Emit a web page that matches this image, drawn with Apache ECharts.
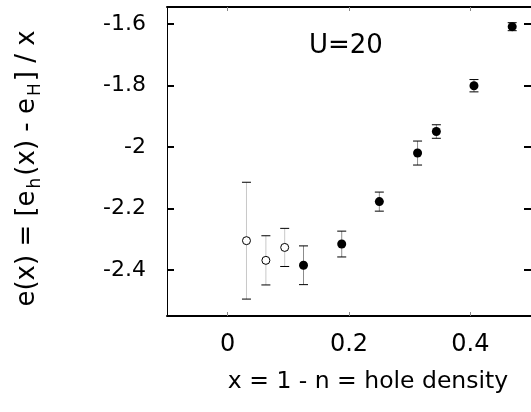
<!DOCTYPE html>
<html>
<head>
<meta charset="utf-8">
<script src="https://cdn.jsdelivr.net/npm/echarts@6/dist/echarts.min.js"></script>
<style>
  html, body { margin: 0; padding: 0; background: #fff; }
  #chart { width: 531px; height: 412px; }
</style>
</head>
<body>
<div id="chart"></div>
<script>
// Hole density x = 1 - n and energy per hole e(x), U = 20
// Open circles: small-x points; filled circles: the rest
const openX = [0.031, 0.063, 0.094];
const openY = [-2.305, -2.369, -2.327];
const openErr = [0.19, 0.08, 0.062];

const fullX = [0.125, 0.188, 0.25, 0.313, 0.344, 0.406, 0.469];
const fullY = [-2.385, -2.316, -2.178, -2.020, -1.950, -1.801, -1.609];
const fullErr = [0.063, 0.042, 0.031, 0.039, 0.022, 0.02, 0.013];

const xTicks = [0, 0.2, 0.4];
const xTickLabels = ['0', '0.2', '0.4'];
const yTicks = [-2.4, -2.2, -2, -1.8, -1.6];
const yTickLabels = ['-2.4', '-2.2', '-2', '-1.8', '-1.6'];

const FONT = 'DejaVu Sans';

function pick(ticks, labels) {
  return function (v) {
    for (let i = 0; i < ticks.length; i++) {
      if (Math.abs(ticks[i] - v) < 1e-6) return labels[i];
    }
    return '';
  };
}

function errorBars(xs, ys, errs, barColor) {
  return {
    type: 'custom',
    z: 1,
    silent: true,
    data: xs.map((x, i) => [x, ys[i] - errs[i], ys[i] + errs[i]]),
    renderItem: function (params, api) {
      const lo = api.coord([api.value(0), api.value(1)]);
      const hi = api.coord([api.value(0), api.value(2)]);
      const hw = 4.5;
      return {
        type: 'group',
        children: [
          { type: 'line', shape: { x1: lo[0], y1: lo[1], x2: hi[0], y2: hi[1] },
            style: { stroke: barColor, lineWidth: 1 } },
          { type: 'line', shape: { x1: lo[0] - hw, y1: lo[1], x2: lo[0] + hw, y2: lo[1] },
            style: { stroke: '#000', lineWidth: 1 } },
          { type: 'line', shape: { x1: hi[0] - hw, y1: hi[1], x2: hi[0] + hw, y2: hi[1] },
            style: { stroke: '#000', lineWidth: 1 } }
        ]
      };
    }
  };
}

const chart = echarts.init(document.getElementById('chart'));
chart.setOption({
  animation: false,
  backgroundColor: '#fff',
  textStyle: { fontFamily: FONT },
  title: {
    text: 'U=20',
    left: 304,
    top: 28,
    textStyle: { fontFamily: FONT, fontSize: 26, fontWeight: 'normal', color: '#000' }
  },
  grid: { left: 167, top: 7, width: 367, height: 309 },
  xAxis: [{
    type: 'value',
    position: 'bottom',
    min: -0.1,
    max: 0.5,
    splitLine: { show: false },
    axisLine: { show: true, onZero: false, lineStyle: { color: '#000', width: 2 } },
    axisTick: { show: true, inside: true, length: 4, customValues: xTicks,
      lineStyle: { color: '#888', width: 1 } },
    axisLabel: { customValues: xTicks, formatter: pick(xTicks, xTickLabels),
      margin: 17, fontFamily: FONT, fontSize: 24, color: '#000' },
    name: 'x = 1 - n = hole density',
    nameLocation: 'middle',
    nameGap: 54,
    nameTextStyle: { fontFamily: FONT, fontSize: 23.5, color: '#000', padding: [0, 0, 0, 38] }
  }, {
    type: 'value',
    position: 'top',
    min: -0.1,
    max: 0.5,
    splitLine: { show: false },
    axisLine: { show: true, onZero: false, lineStyle: { color: '#000', width: 2 } },
    axisTick: { show: true, inside: true, length: 4, customValues: xTicks,
      lineStyle: { color: '#888', width: 1 } },
    axisLabel: { show: false }
  }],
  yAxis: [{
    type: 'value',
    position: 'left',
    min: -2.55,
    max: -1.545,
    splitLine: { show: false },
    axisLine: { show: true, onZero: false, lineStyle: { color: '#000', width: 1 } },
    axisTick: { show: true, inside: true, length: 7, customValues: yTicks,
      lineStyle: { color: '#000', width: 2 } },
    axisLabel: { customValues: yTicks, formatter: pick(yTicks, yTickLabels),
      margin: 21, fontFamily: FONT, fontSize: 22, color: '#000' },
    name: 'e(x) = [e{s|h}(x) - e{s|H}] / x',
    nameLocation: 'middle',
    nameGap: 123,
    nameRotate: 90,
    nameTextStyle: {
      fontFamily: FONT, fontSize: 26, color: '#000', padding: [0, 14, 0, 0],
      rich: { s: { fontFamily: FONT, fontSize: 17, color: '#000', verticalAlign: 'bottom', padding: [16, 2, 0, 2] } }
    }
  }, {
    type: 'value',
    position: 'right',
    min: -2.55,
    max: -1.545,
    splitLine: { show: false },
    axisLine: { show: true, onZero: false, lineStyle: { color: '#000', width: 1 } },
    axisTick: { show: true, inside: true, length: 7, customValues: yTicks,
      lineStyle: { color: '#000', width: 2 } },
    axisLabel: { show: false }
  }],
  series: [
    errorBars(openX, openY, openErr, '#c8c8c8'),
    errorBars(fullX, fullY, fullErr, '#8c8c8c'),
    {
      type: 'scatter',
      z: 3,
      symbol: 'circle',
      symbolSize: 8,
      itemStyle: { color: '#fff', borderColor: '#000', borderWidth: 1, opacity: 1 },
      data: openX.map((x, i) => [x, openY[i]])
    },
    {
      type: 'scatter',
      z: 3,
      symbol: 'circle',
      symbolSize: 9,
      itemStyle: { color: '#000', opacity: 1 },
      data: fullX.map((x, i) => [x, fullY[i]])
    }
  ]
});
</script>
</body>
</html>
